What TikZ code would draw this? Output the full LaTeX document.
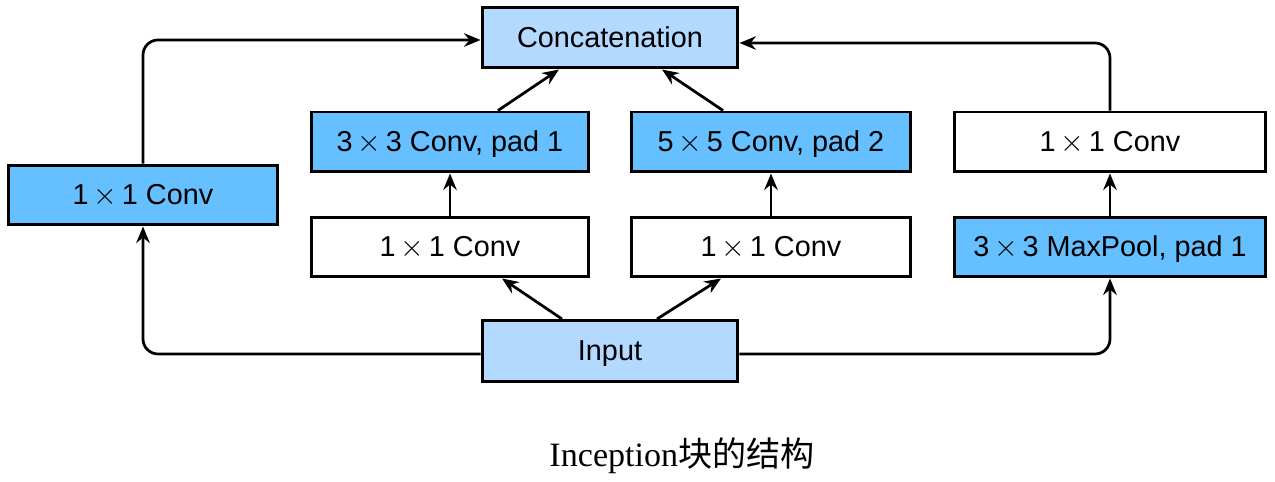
\documentclass[tikz,border=0pt]{standalone}
\usepackage{fontspec}
\usetikzlibrary{arrows.meta}
\newfontfamily\boxfont{Liberation Sans}
\newfontfamily\capfont{Liberation Serif}
\newfontfamily\cjk{Noto Sans CJK SC}
\definecolor{lightfill}{RGB}{179,217,255}
\definecolor{bluefill}{RGB}{102,191,255}
\newcommand{\tms}{\,$\times$\,}
\tikzset{
  blk/.style={draw=black, line width=0.06cm, rectangle, minimum height=1.2cm, inner sep=0pt,
    text height=11pt, text depth=0pt,
    font=\boxfont\fontsize{16.4}{20}\selectfont},
  light/.style={blk, fill=lightfill},
  blue/.style={blk, fill=bluefill},
  white/.style={blk, fill=white},
  arr/.style={line width=0.055cm, -{Stealth[length=0.33cm,width=0.27cm,inset=0.11cm]}, rounded corners=0.3cm},
}
\begin{document}
\begin{tikzpicture}[x=0.02cm,y=-0.02cm]
\useasboundingbox (0,0) rectangle (1275,482);
\node[light, minimum width=5.12cm] (concat) at (610,38) {Concatenation};
\node[blue, minimum width=5.56cm] (c33) at (450,142) {3\tms3 Conv, pad 1};
\node[blue, minimum width=5.58cm] (c55) at (771,142) {5\tms5 Conv, pad 2};
\node[white, minimum width=6.24cm] (r11) at (1110,142) {1\tms1 Conv};
\node[blue, minimum width=5.4cm] (l11) at (143,195) {1\tms1 Conv};
\node[white, minimum width=5.56cm] (m11a) at (450,247) {1\tms1 Conv};
\node[white, minimum width=5.58cm] (m11b) at (771,247) {1\tms1 Conv};
\node[blue, minimum width=6.24cm] (pool) at (1110,247) {3\tms3 MaxPool, pad 1};
\node[light, minimum width=5.12cm, minimum height=1.22cm] (input) at (610,351) {Input};
\node (cap) at (682,456) {\capfont\fontsize{19.4}{22}\selectfont Inception\cjk 块的结构};

\draw[arr] (l11.north) |- ([yshift=-0.04cm]concat.west);
\draw[arr] (r11.north) |- ([yshift=-0.1cm]concat.east);
\draw[arr] ([yshift=-0.06cm]input.west) -| (l11.south);
\draw[arr] ([yshift=-0.06cm]input.east) -| (pool.south);
\draw[arr] ([xshift=-0.96cm]input.north) -- ([xshift=1.04cm]m11a.south);
\draw[arr] ([xshift=0.94cm]input.north) -- ([xshift=-1.0cm]m11b.south);
\draw[arr] (m11a.north) -- (c33.south);
\draw[arr] (m11b.north) -- (c55.south);
\draw[arr] (pool.north) -- (r11.south);
\draw[arr] ([xshift=0.96cm]c33.north) -- ([xshift=-1.02cm]concat.south);
\draw[arr] ([xshift=-0.96cm]c55.north) -- ([xshift=1.04cm]concat.south);
\end{tikzpicture}
\end{document}
